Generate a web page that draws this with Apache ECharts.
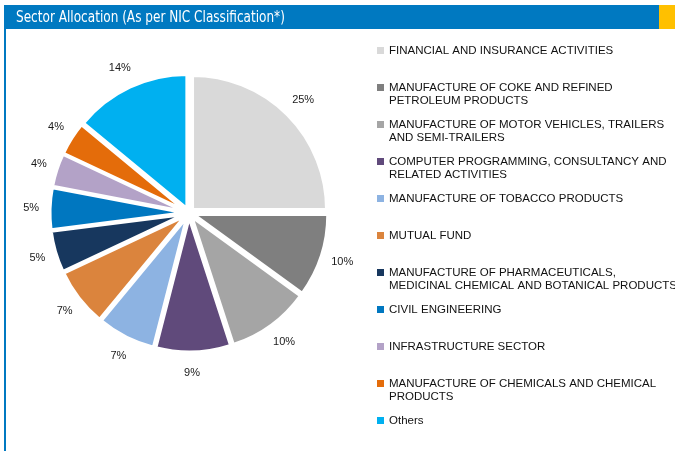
<!DOCTYPE html>
<html>
<head>
<meta charset="utf-8">
<script src="https://cdn.jsdelivr.net/npm/echarts@6/dist/echarts.min.js"></script>
<style>
  html, body { margin: 0; padding: 0; background: #fff; }
  #chart1 { width: 675px; height: 451px; }
</style>
</head>
<body>
<div id="chart1"></div>
<script>
// datos
const sectores = [
  'FINANCIAL AND INSURANCE ACTIVITIES',
  'MANUFACTURE OF COKE AND REFINED\nPETROLEUM PRODUCTS',
  'MANUFACTURE OF MOTOR VEHICLES, TRAILERS\nAND SEMI-TRAILERS',
  'COMPUTER PROGRAMMING, CONSULTANCY AND\nRELATED ACTIVITIES',
  'MANUFACTURE OF TOBACCO PRODUCTS',
  'MUTUAL FUND',
  'MANUFACTURE OF PHARMACEUTICALS,\nMEDICINAL CHEMICAL AND BOTANICAL PRODUCTS',
  'CIVIL ENGINEERING',
  'INFRASTRUCTURE SECTOR',
  'MANUFACTURE OF CHEMICALS AND CHEMICAL\nPRODUCTS',
  'Others'
];
const pesos = [25, 10, 10, 9, 7, 7, 5, 5, 4, 4, 14];
const colores = ['#D9D9D9', '#7F7F7F', '#A5A5A5', '#604A7B', '#8DB3E2', '#DB843D',
                 '#17375E', '#0077C0', '#B3A2C7', '#E46C0A', '#00B0F0'];

const titulo = 'Sector Allocation (As per NIC Classification*)';
const azul = '#0079C1';
const fuente = 'Arial, "Liberation Sans", sans-serif';

const getOption = () => {
  return {
    animation: false,
    graphic: [
      { type: 'rect', shape: { x: 4, y: 5, width: 655, height: 24 }, style: { fill: azul }, z: 0 },
      { type: 'rect', shape: { x: 659, y: 5, width: 16, height: 24 }, style: { fill: '#FFC000' }, z: 0 },
      { type: 'rect', shape: { x: 4, y: 29, width: 2, height: 422 }, style: { fill: azul }, z: 0 },
      {
        type: 'text', x: 16, y: 18, scaleX: 0.84, z: 2,
        style: {
          text: titulo, fill: '#fff',
          font: '16px "DejaVu Sans Condensed", "DejaVu Sans", sans-serif',
          verticalAlign: 'middle'
        }
      }
    ],
    color: colores,
    legend: {
      orient: 'vertical',
      left: 377,
      top: 31,
      padding: 0,
      itemGap: -2,
      itemWidth: 7,
      itemHeight: 7,
      icon: 'rect',
      selectedMode: false,
      itemStyle: { borderWidth: 0 },
      textStyle: { fontSize: 11.5, lineHeight: 13, color: '#111', fontFamily: fuente },
      // linea vacia arriba para que el cuadrito quede en la primera linea
      formatter: n => (n.includes('\n') ? '\n' + n : n),
      data: sectores.map(n => ({
        name: n,
        textStyle: { padding: n.includes('\n') ? 0 : [13, 0, 13, 0] }
      }))
    },
    series: [
      {
        type: 'pie',
        center: [189, 213],
        radius: 134,
        startAngle: 90,
        clockwise: true,
        avoidLabelOverlap: false,
        selectedMode: 'multiple',
        selectedOffset: 5,
        itemStyle: { borderColor: '#fff', borderWidth: 3 },
        select: { itemStyle: { borderColor: '#fff', borderWidth: 3 } },
        emphasis: { disabled: true },
        label: {
          show: true,
          position: 'outside',
          formatter: '{c}%',
          fontSize: 11,
          color: '#1a1a1a',
          fontFamily: fuente,
          distanceToLabelLine: -10
        },
        labelLine: { show: false, length: 21, length2: 0 },
        data: sectores.map((n, i) => ({ name: n, value: pesos[i], selected: true }))
      }
    ]
  };
};

const chart1 = echarts.init(document.querySelector('#chart1'));
chart1.setOption(getOption());
</script>
</body>
</html>
